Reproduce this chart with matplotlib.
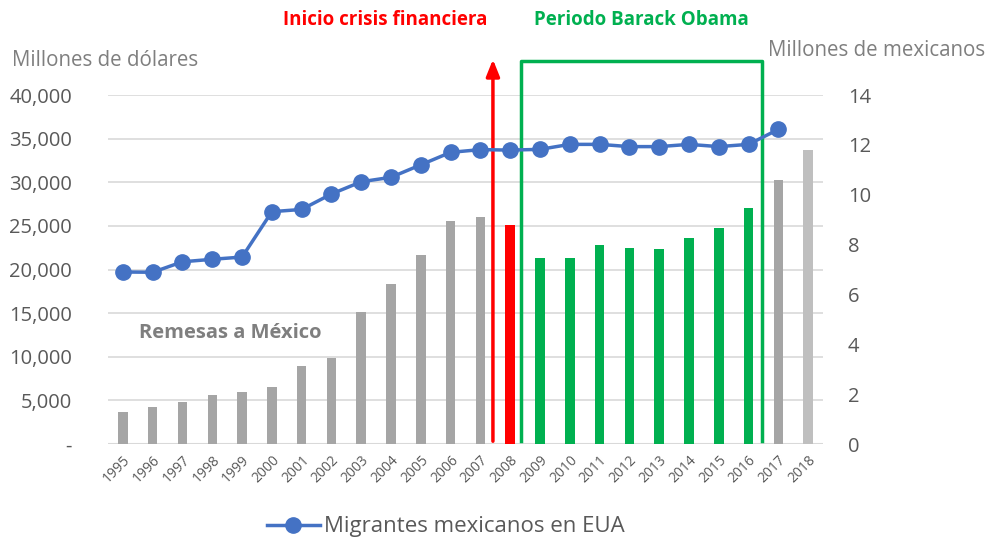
import matplotlib
matplotlib.use("Agg")
import matplotlib.pyplot as plt
from matplotlib.ticker import FuncFormatter

# data
years = list(range(1995, 2019))
remesas = [3673, 4224, 4865, 5627, 5910, 6573, 8895, 9814, 15139, 18332, 21688, 25567,
           26059, 25145, 21306, 21304, 22803, 22438, 22303, 23647, 24785, 26993, 30291, 33677]
migrantes = [6.90, 6.89, 7.31, 7.41, 7.50, 9.32, 9.41, 10.03, 10.52, 10.70, 11.20, 11.70,
             11.81, 11.79, 11.82, 12.02, 12.02, 11.93, 11.93, 12.02, 11.93, 12.02, 12.62]
bar_colors = (["#A5A5A5"] * 13 + ["#FF0000"] + ["#00B050"] * 8 + ["#A5A5A5", "#BFBFBF"])

plt.rcParams["font.family"] = ["Open Sans", "DejaVu Sans"]
gray_txt = "#7F7F7F"
tick_txt = "#595959"

fig = plt.figure(figsize=(9.91, 5.42), dpi=100)
ax = fig.add_axes([0.109, 0.1808, 0.7215, 0.6439])
x = list(range(len(years)))

#bars on the left axis
ax.bar(x, remesas, width=0.32, color=bar_colors, zorder=2)
ax.set_ylim(0, 40000)
ax.set_xlim(-0.5, len(years) - 0.5)
ax.set_yticks(range(0, 40001, 5000))
ax.yaxis.set_major_formatter(FuncFormatter(lambda v, p: "-" if v == 0 else f"{int(v):,}"))
ax.grid(axis="y", color="#D9D9D9", linewidth=1.2, zorder=0)
ax.set_axisbelow(True)
for s in ax.spines.values():
    s.set_visible(False)
ax.tick_params(axis="y", length=0, labelsize=14.5, labelcolor=tick_txt, pad=26)
ax.set_xticks(x)
ax.set_xticklabels(years, rotation=45, fontsize=10, color=tick_txt, ha="right",
                   rotation_mode="anchor")
ax.tick_params(axis="x", length=0, pad=6)
ax.axhline(0, color="#D9D9D9", linewidth=1.5, zorder=1)

#line on the right axis
ax2 = ax.twinx()
ax2.plot(x[:len(migrantes)], migrantes, color="#4472C4", linewidth=2.5, marker="o",
         markersize=11, zorder=3, label="Migrantes mexicanos en EUA")
ax2.set_ylim(0, 14)
ax2.set_yticks(range(0, 15, 2))
for s in ax2.spines.values():
    s.set_visible(False)
ax2.tick_params(axis="y", length=0, labelsize=14.5, labelcolor=tick_txt, pad=18)

#crisis arrow and Obama period box
ax.annotate("", xy=(12.42, 44400), xytext=(12.42, 0), annotation_clip=False,
            arrowprops=dict(arrowstyle="-|>,head_width=0.4,head_length=1.0",
                            color="#FF0000", lw=2.5))
ax.plot([13.36, 13.36, 21.44, 21.44], [350, 43900, 43900, 350], color="#00B050",
        linewidth=2.5, clip_on=False, zorder=4)

fig.text(0.389, 0.963, "Inicio crisis financiera", color="#FF0000", fontsize=13.5,
         fontweight="bold", ha="center", va="center")
fig.text(0.647, 0.963, "Periodo Barack Obama", color="#00B050", fontsize=13.5,
         fontweight="bold", ha="center", va="center")
fig.text(0.012, 0.889, "Millones de dólares", color=gray_txt, fontsize=14.8, va="center")
fig.text(0.994, 0.906, "Millones de mexicanos", color=gray_txt, fontsize=14.8,
         va="center", ha="right")
ax.text(0.55, 12700, "Remesas a México", color=gray_txt, fontsize=14.5, fontweight="bold",
        va="center")

fig.legend(loc="center", bbox_to_anchor=(0.45, 0.028), frameon=False, fontsize=16,
           labelcolor=tick_txt, handlelength=2.4, handletextpad=0.2)

plt.savefig("out.png", dpi=100)
